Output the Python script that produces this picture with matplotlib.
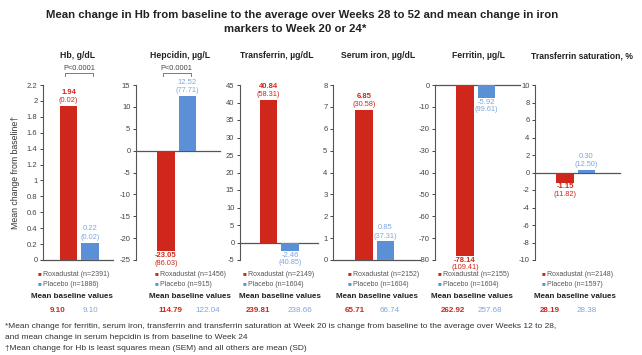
import matplotlib
matplotlib.use("Agg")
import matplotlib.pyplot as plt
import numpy as np

plt.rcParams['font.family'] = ['Liberation Sans', 'DejaVu Sans']

# Data
panels = ['Hb, g/dL', 'Hepcidin, µg/L', 'Transferrin, µg/dL', 'Serum iron, µg/dL',
          'Ferritin, µg/L', 'Transferrin saturation, %']
roxa_mean = [1.94, -23.05, 40.84, 6.85, -78.14, -1.15]
roxa_sd = ['0.02', '86.03', '58.31', '30.58', '109.41', '11.82']
plac_mean = [0.22, 12.52, -2.46, 0.85, -5.92, 0.30]
plac_sd = ['0.02', '77.71', '40.85', '37.31', '99.61', '12.50']
roxa_n = [2391, 1456, 2149, 2152, 2155, 2148]
plac_n = [1886, 915, 1604, 1604, 1604, 1597]
roxa_base = ['9.10', '114.79', '239.81', '65.71', '262.92', '28.19']
plac_base = ['9.10', '122.04', '238.66', '66.74', '257.68', '28.38']
ylims = [(0, 2.2), (-25, 15), (-5, 45), (0, 8), (-80, 0), (-10, 10)]
ysteps = [0.2, 5, 5, 1, 10, 2]
pvalues = ['P<0.0001', 'P<0.0001', None, None, None, None]

RED = '#d0271d'
BLUE = '#5b8fd6'
BLUE_TXT = '#7fa6dc'
GREY = '#555555'

W, H = 642, 355
fig = plt.figure(figsize=(W / 100, H / 100), dpi=100)

def fx(x):
    return x / W

def fy(y):
    return 1 - y / H

# layout in pixels
ax_left = [43, 136, 240, 333, 435, 535]
ax_right = [113, 220, 318, 420, 520, 620]
red_ctr = [68.5, 166, 268.5, 364, 465, 565]
title_x = [78, 180, 277, 378, 478, 582]
leg_x = [38, 155, 243, 348, 438, 542]
mbv_x = [72, 190, 280, 377, 472, 575]
val_x = [(58, 90), (170, 208), (258, 300), (355, 390), (453, 490), (550, 587)]
top, bottom = 85, 260
unit = 21.5

fig.text(fx(302), fy(15), 'Mean change in Hb from baseline to the average over Weeks 28 to 52 and mean change in iron',
         ha='center', va='center', fontsize=8.2, fontweight='bold', color='#222222')
fig.text(fx(295), fy(29), 'markers to Week 20 or 24*',
         ha='center', va='center', fontsize=8.2, fontweight='bold', color='#222222')
fig.text(fx(16), fy(172), 'Mean change from baseline\u2020', rotation=90,
         ha='center', va='center', fontsize=6.3, color='#333333')

for i in range(6):
    l, r = ax_left[i], ax_right[i]
    ax = fig.add_axes([fx(l), fy(bottom), (r - l) / W, (bottom - top) / H])
    ax.set_xlim((l - red_ctr[i]) / unit, (r - red_ctr[i]) / unit)
    ax.set_ylim(*ylims[i])
    lo, hi = ylims[i]
    ticks = np.round(np.arange(lo, hi + ysteps[i] / 2, ysteps[i]), 2)
    ax.set_yticks(ticks)
    ax.set_yticklabels([f'{t:g}' for t in ticks])
    ax.set_xticks([])
    for s in ['top', 'right', 'bottom']:
        ax.spines[s].set_visible(False)
    ax.spines['left'].set_color(GREY)
    ax.spines['left'].set_linewidth(0.8)
    ax.tick_params(axis='y', length=2.5, width=0.7, pad=1.5, labelsize=5.5,
                   colors='#444444')
    ax.patch.set_alpha(0)
    ax.axhline(0, color=GREY, lw=0.9, clip_on=False)

    vals = [roxa_mean[i], plac_mean[i]]
    sds = [roxa_sd[i], plac_sd[i]]
    ax.bar([0, 1], vals, width=0.8, color=[RED, BLUE], zorder=3)

    for x, v, sd, col, bold in zip([0, 1], vals, sds, [RED, BLUE_TXT], [True, False]):
        if v >= 0:
            ax.annotate(f'({sd})', (x, v), xytext=(0, 1.2), textcoords='offset points',
                        ha='center', va='bottom', fontsize=5.3, color=col, annotation_clip=False)
            ax.annotate(f'{v:.2f}', (x, v), xytext=(0, 7.2), textcoords='offset points',
                        ha='center', va='bottom', fontsize=5.5, color=col,
                        fontweight='bold' if bold else 'normal', annotation_clip=False)
        else:
            ax.annotate(f'{v:.2f}', (x, v), xytext=(0, -0.6), textcoords='offset points',
                        ha='center', va='top', fontsize=5.5, color=col,
                        fontweight='bold' if bold else 'normal', annotation_clip=False)
            ax.annotate(f'({sd})', (x, v), xytext=(0, -6.0), textcoords='offset points',
                        ha='center', va='top', fontsize=5.3, color=col, annotation_clip=False)

    # panel title
    fig.text(fx(title_x[i]), fy(56), panels[i], ha='center', va='center',
             fontsize=6.2, fontweight='bold', color='#222222')

    # significance bracket
    if pvalues[i]:
        tr = ax.get_xaxis_transform()
        yb = (bottom - 73) / (bottom - top)
        ax.plot([-0.15, -0.15, 1.15, 1.15], [yb - 0.015, yb, yb, yb - 0.015],
                transform=tr, color='#666666', lw=0.6, clip_on=False)
        ax.text(0.5, (bottom - 68) / (bottom - top), pvalues[i], transform=tr,
                ha='center', va='center', fontsize=5.3, color='#444444')

    # legend
    fig.text(fx(leg_x[i]), fy(274), '■', color=RED, fontsize=4.5, va='center')
    fig.text(fx(leg_x[i] + 5), fy(274), f'Roxadustat (n={roxa_n[i]})', color=GREY,
             fontsize=5, va='center')
    fig.text(fx(leg_x[i]), fy(284), '■', color=BLUE, fontsize=4.5, va='center')
    fig.text(fx(leg_x[i] + 5), fy(284), f'Placebo (n={plac_n[i]})', color=GREY,
             fontsize=5, va='center')

    # mean baseline values
    fig.text(fx(mbv_x[i]), fy(297), 'Mean baseline values', ha='center', va='center',
             fontsize=5.8, fontweight='bold', color='#222222')
    fig.text(fx(val_x[i][0]), fy(311), roxa_base[i], ha='center', va='center',
             fontsize=5.8, fontweight='bold', color=RED)
    fig.text(fx(val_x[i][1]), fy(311), plac_base[i], ha='center', va='center',
             fontsize=5.8, color=BLUE_TXT)

foot = ['*Mean change for ferritin, serum iron, transferrin and transferrin saturation at Week 20 '
        'is change from baseline to the average over Weeks 12 to 28,',
        'and mean change in serum hepcidin is from baseline to Week 24',
        '\u2020Mean change for Hb is least squares mean (SEM) and all others are mean (SD)']
for k, line in enumerate(foot):
    fig.text(fx(5), fy(327 + k * 10.5), line, va='center', fontsize=6.0, color='#333333')

fig.savefig('out.png', dpi=100, facecolor='white')
